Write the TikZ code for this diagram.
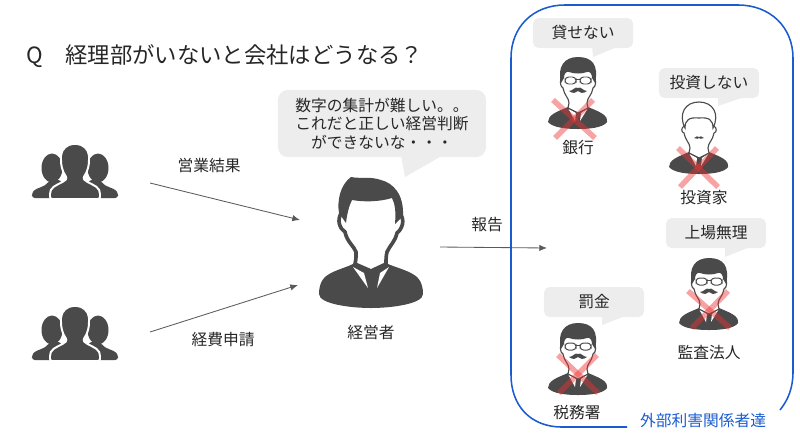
\documentclass[tikz,border=0pt]{standalone}
\usepackage{fontspec}
\setmainfont{Noto Sans CJK JP}
\usepackage{xcolor}
\usetikzlibrary{arrows.meta,positioning,calc}
\definecolor{softgray}{RGB}{237,237,237}
\definecolor{figgray}{RGB}{74,74,74}
\definecolor{linegray}{RGB}{90,90,90}
\definecolor{textgray}{RGB}{38,38,38}
\definecolor{frameblue}{RGB}{26,92,208}
\definecolor{crossred}{RGB}{238,50,50}
\begin{document}
\begin{tikzpicture}[
  x=0.025cm,y=-0.025cm,
  >={Latex[length=5.5pt,width=4.5pt]},
  label/.style={font=\fontsize{11.2}{13}\selectfont,text=textgray,inner sep=0pt,align=center},
  bubble/.style={fill=softgray,rounded corners=4pt,align=center,text=textgray,
              minimum width=2.5cm,minimum height=0.75cm,inner sep=0pt,
              font=\fontsize{11.2}{13}\selectfont},
  tail/.style={fill=softgray},
  flow/.style={->,draw=linegray,line width=0.6pt},
  redcross/.style={draw=crossred,opacity=0.45,line width=3.9pt},
  crowd/.pic={
    \foreach \sx in {-23,23}{
      \fill[figgray] (\sx,23) ellipse (10.5 and 14.5);
      \fill[figgray,rounded corners=2pt] (\sx*1.87,53) -- (\sx*1.87,48) .. controls (\sx*1.7,43) and (\sx*1.3,42) .. (\sx*1.1,35) -- (\sx*0.6,35) -- (\sx*0.6,53) -- cycle;
    }
    \path[fill=figgray,draw=white,line width=1.4pt,rounded corners=1.5pt]
      (-25,54) -- (-25,47) .. controls (-22,40) and (-12,38) .. (-8,33)
      .. controls (-13,26) and (-14,20) .. (-14,13) .. controls (-14,4) and (-7,-1) .. (0,-1)
      .. controls (7,-1) and (14,4) .. (14,13) .. controls (14,20) and (13,26) .. (8,33)
      .. controls (12,38) and (22,40) .. (25,47) -- (25,54) -- cycle;
  },
  chief/.pic={
    \fill[figgray] (-52,118) .. controls (-52,105) and (-46,100) .. (-40,97)
      .. controls (-32,93) and (-24,91) .. (-18,88) -- (17,88)
      .. controls (24,91) and (32,93) .. (40,97) .. controls (46,100) and (52,105) .. (52,118)
      .. controls (52,128) and (20,132) .. (0,132) .. controls (-20,132) and (-52,128) .. (-52,118) -- cycle;
    \fill[white] (-18,91) -- (-7,97) -- (-3,112) -- cycle;
    \fill[white] (18,91) -- (9,97) -- (6,112) -- cycle;
    \fill[figgray] (-5,96) -- (7,96) -- (4,102) -- (5,108) -- (1,113) -- (-3,108) -- (-2,102) -- cycle;
    \path[fill=white,draw=figgray,line width=2.6pt] (-29,36) .. controls (-35,44) and (-31,53) .. (-26,56)
      .. controls (-24,66) and (-17,70) .. (-15,76) .. controls (-15,82) and (-15,85) .. (-16,88)
      -- (0,95) -- (15,88) .. controls (15,84) and (15,80) .. (16,76)
      .. controls (19,69) and (24,66) .. (26,57) .. controls (31,53) and (35,44) .. (28,36);
    \fill[white] (-25,20) rectangle (25,40);
    \fill[figgray] (-20,1) .. controls (-10,3) and (-2,0) .. (10,4)
      .. controls (22,7) and (33,18) .. (32,40) -- (24,48) .. controls (25,35) and (24,28) .. (21,22)
      .. controls (8,26) and (-8,26) .. (-19,24) .. controls (-22,30) and (-24,38) .. (-25,47)
      -- (-32,37) .. controls (-34,25) and (-31,9) .. (-20,1) -- cycle;
  },
  faceline/.style={fill=white,draw=figgray,line width=0.8pt},
  bodyshape/.pic={
    \fill[figgray] (-30,65) .. controls (-30,58) and (-22,55) .. (-10,50) -- (10,50)
      .. controls (22,55) and (30,58) .. (29,65) .. controls (25,71) and (10,72) .. (0,72)
      .. controls (-10,72) and (-25,71) .. (-30,65) -- cycle;
    \fill[white] (-10,51) -- (-2,56) -- (-3,64) -- cycle;
    \fill[white] (10,51) -- (3,56) -- (2,64) -- cycle;
    \fill[figgray] (-2,55) -- (2,55) -- (1.5,64) -- (0,66) -- (-1.5,64) -- cycle;
  },
  glassesman/.pic={
    \pic {bodyshape};
    \path[faceline] (-15,18) .. controls (-19,22) and (-18,30) .. (-15,31)
      .. controls (-14,38) and (-9,41) .. (-9,46) -- (-10,51) -- (0,56) -- (10,51) -- (9,46)
      .. controls (9,41) and (14,38) .. (15,31) .. controls (18,30) and (19,22) .. (15,18);
    \fill[figgray] (-17,26) .. controls (-21,10) and (-14,0) .. (0,0)
      .. controls (14,0) and (21,8) .. (17,26) -- (14,21) .. controls (14,17) and (12,14) .. (9,15)
      .. controls (4,17) and (-4,17) .. (-9,15) .. controls (-12,14) and (-14,17) .. (-14,21) -- cycle;
    \draw[fill=white,draw=figgray,line width=0.7pt,rounded corners=2.5pt] (-13,20) rectangle (-2,27);
    \draw[fill=white,draw=figgray,line width=0.7pt,rounded corners=2.5pt] (2,20) rectangle (13,27);
    \draw[figgray,line width=0.7pt] (-2,22) -- (2,22);
    \fill[figgray] (-9,34) .. controls (-5,34) and (-3,29) .. (0,31) .. controls (3,29) and (5,34) .. (9,34)
      .. controls (5,37) and (2,36) .. (0,34) .. controls (-2,36) and (-5,37) .. (-9,34) -- cycle;
  },
  paleman/.pic={
    \pic {bodyshape};
    \path[faceline] (-15,24) .. controls (-18,26) and (-18,30) .. (-15,31)
      .. controls (-14,38) and (-9,41) .. (-9,46) -- (-10,51) -- (0,56) -- (10,51) -- (9,46)
      .. controls (9,41) and (14,38) .. (15,31) .. controls (18,30) and (18,26) .. (15,24);
    \path[faceline] (-14,26) .. controls (-21,12) and (-14,0) .. (0,0)
      .. controls (14,0) and (21,12) .. (14,26) .. controls (14,18) and (10,15) .. (0,16)
      .. controls (-10,15) and (-14,18) .. (-14,26) -- cycle;
    \fill[figgray] (-5,36) .. controls (-3,35) and (-1,33) .. (0,35) .. controls (1,33) and (3,35) .. (5,36)
      .. controls (2,37) and (1,37) .. (0,36) .. controls (-1,37) and (-2,37) .. (-5,36) -- cycle;
  }]
\useasboundingbox (0,0) rectangle (800,443);
\node[label,anchor=west,font=\fontsize{15.9}{18}\selectfont] (title) at (26,56) {Q\hspace{16pt}経理部がいないと会社はどうなる？};
\pic (crowdtop) at (75,145) {crowd};
\pic (crowdlow) at (75,307) {crowd};
\pic (manager) at (371,176) {chief};
\pic (bankman) at (578,57) {glassesman};
\pic (investor) at (699,102) {paleman};
\pic (auditor) at (709,258) {glassesman};
\pic (taxman) at (578,323) {glassesman};
\fill[tail] (400,150) -- (405,177) -- (452,150) -- cycle;
\node[bubble,minimum width=5.2cm,minimum height=1.68cm,rounded corners=7pt,font=\fontsize{11.2}{13.3}\selectfont] (worry) at (382,123.5) {数字の集計が難しい。。\\これだと正しい経営判断\\ができないな・・・};
\fill[tail] (592,45) -- (593,57) -- (622,45) -- cycle;
\node[bubble] (lend) at (583,33) {貸せない};
\fill[tail] (718,95) -- (718,106) -- (750,95) -- cycle;
\node[bubble] (invest) at (709,83) {投資しない};
\fill[tail] (725,245) -- (725,257) -- (755,245) -- cycle;
\node[bubble] (listing) at (716,233) {上場無理};
\fill[tail] (602,313) -- (602,325) -- (633,313) -- cycle;
\node[bubble] (fine) at (594,302) {罰金};
\draw[redcross] (553,100) -- (595,138);
\draw[redcross] (593,100) -- (555,138);
\draw[redcross] (678,148) -- (718,187);
\draw[redcross] (717,148) -- (680,187);
\draw[redcross] (688,291) -- (730,328);
\draw[redcross] (728,291) -- (692,328);
\draw[redcross] (558,355) -- (598,393);
\draw[redcross] (597,355) -- (559,393);
\node[label] (sales) at (209,166) {営業結果};
\node[label] (expense) at (223,340) {経費申請};
\node[label] (managerlabel) at (371,333) {経営者};
\node[label] (report) at (487,225) {報告};
\node[label] (banklabel) at (578,148) {銀行};
\node[label] (investorlabel) at (704,198) {投資家};
\node[label] (auditlabel) at (709,353) {監査法人};
\node[label] (taxlabel) at (577,413) {税務署};
\node[label,text=frameblue] (outside) at (703,421) {外部利害関係者達};
\coordinate (salesstart) at (150,183);
\coordinate (salesend) at (300,220);
\coordinate (expensestart) at (150,332);
\coordinate (expenseend) at (298,285);
\coordinate (reportstart) at (440,247);
\coordinate (reportend) at (547,248);
\draw[flow] (salesstart)--(salesend);
\draw[flow] (expensestart)--(expenseend);
\draw[flow] (reportstart)--(reportend);
\draw[frameblue,line width=1.1pt] (627,427) -- (562,427) .. controls (530,427) and (511,405) .. (511,375)
  -- (511,58) .. controls (511,27) and (533,5) .. (565,5) -- (738,5)
  .. controls (770,5) and (793,27) .. (793,58) -- (793,372) .. controls (793,388) and (788,400) .. (780,410);
\end{tikzpicture}
\end{document}
